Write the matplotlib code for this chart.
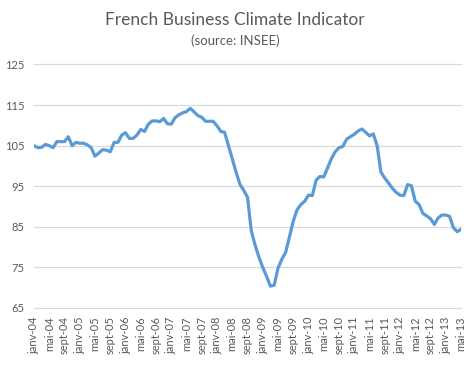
import matplotlib.pyplot as plt

# monthly values, janv-04 .. mai-13
values_2004 = [105.0, 104.5, 104.6, 105.3, 105.0, 104.5, 106.0, 106.0, 106.0, 107.2, 105.0, 105.8]
values_2005 = [105.6, 105.6, 105.2, 104.5, 102.4, 103.2, 104.0, 103.9, 103.5, 105.8, 105.8, 107.6]
values_2006 = [108.2, 106.8, 106.8, 107.6, 109.0, 108.5, 110.3, 111.1, 111.1, 110.9, 111.7, 110.4]
values_2007 = [110.3, 111.9, 112.6, 113.1, 113.4, 114.2, 113.3, 112.4, 112.0, 111.0, 111.0, 111.0]
values_2008 = [109.9, 108.5, 108.3, 105.0, 101.8, 98.5, 95.5, 94.0, 92.3, 84.0, 80.5, 77.5]
values_2009 = [75.0, 72.8, 70.4, 70.6, 74.8, 77.0, 78.7, 82.5, 86.4, 89.2, 90.5, 91.3]
values_2010 = [92.8, 92.7, 96.5, 97.4, 97.3, 99.5, 101.8, 103.5, 104.5, 104.8, 106.6, 107.2]
values_2011 = [107.8, 108.6, 109.1, 108.3, 107.4, 107.9, 105.0, 98.5, 97.0, 95.8, 94.5, 93.5]
values_2012 = [92.8, 92.7, 95.4, 95.1, 91.3, 90.5, 88.3, 87.7, 87.0, 85.6, 87.2, 87.9]
values_2013 = [87.9, 87.6, 84.8, 83.8, 84.4]

values = (values_2004 + values_2005 + values_2006 + values_2007 + values_2008
          + values_2009 + values_2010 + values_2011 + values_2012 + values_2013)

month_names = ["janv", "mai", "sept"]
years = ["04", "05", "06", "07", "08", "09", "10", "11", "12", "13"]
tick_labels = [m + "-" + y for y in years for m in month_names][:29]
y_ticks = [65, 75, 85, 95, 105, 115, 125]

plt.rcParams["font.family"] = ["Lato", "DejaVu Sans"]
grey = "#595959"
fig = plt.figure(figsize=(4.7, 3.65), dpi=100)
ax = fig.add_axes([34/470, 1 - 308/365, (461-34)/470, (308-64.5)/365])

x = list(range(len(values)))
ax.plot(x, values, color="#5B9BD5", linewidth=2.3, solid_joinstyle="round")

ax.set_xlim(0, len(values) - 1)
ax.set_ylim(65, 125)
ax.set_yticks(y_ticks)
ax.set_xticks(range(0, len(values), 4))
ax.set_xticklabels(tick_labels, rotation=90)
ax.tick_params(axis="both", length=0, labelsize=8, colors=grey)
ax.tick_params(axis="y", pad=7)
ax.tick_params(axis="x", pad=6)
ax.grid(axis="y", color="#D9D9D9", linewidth=0.9)
for gl in ax.get_ygridlines():
    gl.set_clip_on(False)
ax.set_axisbelow(True)
for s in ax.spines.values():
    s.set_visible(False)

fig.text(0.5, 1 - 20/365, "French Business Climate Indicator", ha="center", va="center",
         fontsize=12.5, color=grey)
fig.text(0.5, 1 - 41/365, "(source: INSEE)", ha="center", va="center",
         fontsize=9.5, color=grey)

fig.savefig("out.png", dpi=100)
